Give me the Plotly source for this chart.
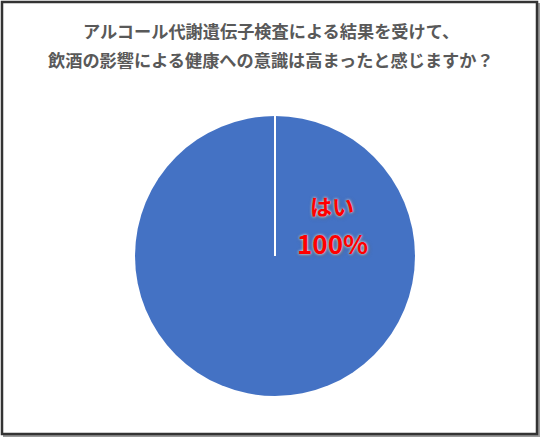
import plotly.graph_objects as go

# data
labels = ['はい']
values = [100]
title_lines = ['アルコール代謝遺伝子検査による結果を受けて、',
               '飲酒の影響による健康への意識は高まったと感じますか？']
colors = ['#4472C4']

W, H = 541, 439
# pie placement (pixels)
cx, cy, r = 275, 256, 140

fig = go.Figure()

fig.add_pie(
    labels=labels,
    values=values,
    marker=dict(colors=colors, line=dict(width=0)),
    textinfo='none',
    hoverinfo='label+percent',
    sort=False,
    direction='clockwise',
    rotation=0,
    showlegend=False,
    domain=dict(x=[(cx - r) / W, (cx + r) / W],
                y=[1 - (cy + r) / H, 1 - (cy - r) / H]),
)

# frame + slice boundary from center to top
shapes = [
    dict(type='rect', xref='paper', yref='paper', layer='below',
         x0=4 / W, x1=539 / W, y0=1 - 436 / H, y1=1 - 4 / H,
         line=dict(color='#9a9a9a', width=2)),
    dict(type='rect', xref='paper', yref='paper', layer='below',
         x0=2 / W, x1=537 / W, y0=1 - 434 / H, y1=1 - 2 / H,
         line=dict(color='#333333', width=2.5), fillcolor='white'),
    dict(type='line', xref='paper', yref='paper', layer='above',
         x0=cx / W, x1=cx / W, y0=1 - cy / H, y1=1 - (cy - r) / H,
         line=dict(color='white', width=2)),
]

pct = round(values[0] / sum(values) * 100)
glow = '0 0 3px #ffffff, 1px 1px 4px #666666'

annotations = [
    dict(text=title_lines[0], x=0.5, y=1 - 30 / H, xref='paper', yref='paper',
         showarrow=False, xanchor='center', yanchor='middle',
         font=dict(family='Noto Sans CJK JP', size=17.2, color='#595959', weight='bold')),
    dict(text=title_lines[1], x=0.5, y=1 - 60 / H, xref='paper', yref='paper',
         showarrow=False, xanchor='center', yanchor='middle',
         font=dict(family='Noto Sans CJK JP', size=17.2, color='#595959', weight='bold')),
    dict(text=labels[0], x=332 / W, y=1 - 205 / H, xref='paper', yref='paper',
         showarrow=False, xanchor='center', yanchor='middle',
         font=dict(family='Noto Sans CJK JP', size=22, color='#FF0000',
                   weight='bold', shadow=glow)),
    dict(text=f'{pct}%', x=332 / W, y=1 - 242 / H, xref='paper', yref='paper',
         showarrow=False, xanchor='center', yanchor='middle',
         font=dict(family='Noto Sans CJK JP', size=26, color='#FF0000',
                   weight='bold', shadow=glow)),
]

fig.update_layout(
    width=W,
    height=H,
    margin=dict(l=0, r=0, t=0, b=0),
    paper_bgcolor='white',
    plot_bgcolor='white',
    shapes=shapes,
    annotations=annotations,
)

fig.write_html('out.html', config={'displayModeBar': False},
               post_script="document.body.style.margin='0';document.body.style.overflow='hidden';")
